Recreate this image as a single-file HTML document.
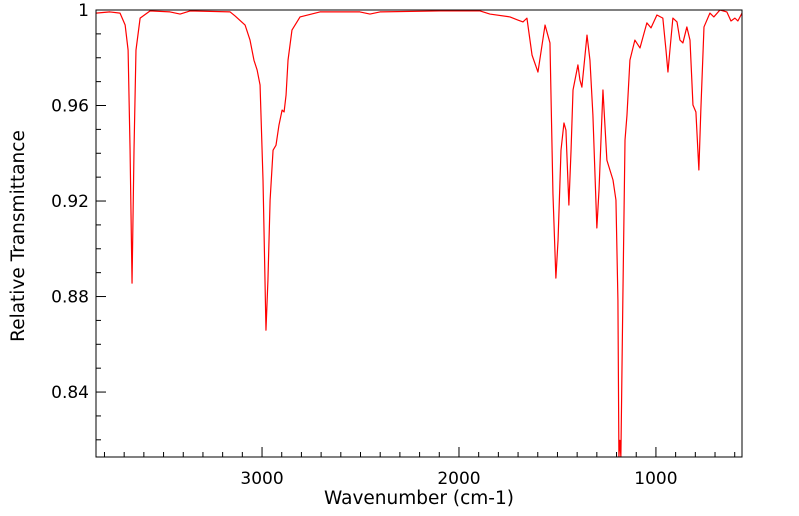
<!DOCTYPE html>
<html><head><meta charset="utf-8"><style>
html,body{margin:0;padding:0;background:#fff;}
svg{display:block;font-family:"DejaVu Sans","Liberation Sans",sans-serif;}
</style></head><body>
<svg id="chart" width="799" height="516" viewBox="0 0 799 516" xmlns="http://www.w3.org/2000/svg">
<defs><clipPath id="clip"><rect x="96" y="10" width="646" height="447"/></clipPath></defs>
<g id="axes"></g>
<g id="series" clip-path="url(#clip)"></g>
<rect x="96" y="10" width="646" height="447" fill="none" stroke="#000" stroke-width="1"/>
<text x="419" y="504" font-size="18.5" text-anchor="middle">Wavenumber (cm-1)</text>
<text transform="translate(24,236) rotate(-90)" font-size="18.5" text-anchor="middle">Relative Transmittance</text>
</svg>
<script>
const wavenumbers=[3843,3772,3721,3695,3680,3670,3660,3650,3640,3619,3569,3467,3416,3365,3162,3137,3086,3061,3041,3025,3010,2995,2980,2970,2959,2944,2929,2914,2898,2888,2878,2868,2848,2807,2706,2503,2452,2401,2096,1893,1843,1741,1701,1675,1655,1629,1599,1563,1538,1523,1508,1497,1482,1467,1457,1442,1431,1421,1396,1386,1376,1350,1335,1320,1300,1289,1269,1249,1218,1203,1193,1188,1183,1178,1168,1157,1147,1132,1107,1081,1046,1025,995,965,949,939,929,914,893,878,863,843,827,812,797,782,772,756,726,706,675,640,619,599,584,563];
const transmittance=[0.9987,0.9992,0.9987,0.9937,0.9832,0.9413,0.8856,0.9413,0.9832,0.9966,0.9996,0.9992,0.9983,0.9996,0.9992,0.9975,0.9937,0.9874,0.9790,0.9749,0.9686,0.9288,0.8659,0.8869,0.9204,0.9413,0.9434,0.9518,0.9581,0.9573,0.9644,0.9790,0.9916,0.9971,0.9992,0.9992,0.9983,0.9992,0.9996,0.9996,0.9983,0.9971,0.9958,0.9950,0.9966,0.9811,0.9740,0.9937,0.9862,0.9233,0.8877,0.9036,0.9413,0.9527,0.9497,0.9183,0.9413,0.9665,0.9770,0.9707,0.9677,0.9895,0.9790,0.9560,0.9087,0.9246,0.9665,0.9371,0.9288,0.9204,0.8785,0.8127,0.8198,0.8127,0.8785,0.9455,0.9560,0.9790,0.9874,0.9841,0.9946,0.9925,0.9979,0.9966,0.9832,0.9740,0.9832,0.9966,0.9950,0.9874,0.9862,0.9929,0.9874,0.9602,0.9573,0.9330,0.9581,0.9929,0.9987,0.9971,1.0,0.9992,0.9954,0.9966,0.9954,0.9987];
const xTickLabels=[3000,2000,1000];
const yTickLabels=[1,0.96,0.92,0.88,0.84];

const NS='http://www.w3.org/2000/svg';
const X0=96,X1=742,Y0=457,Y1=10;
const xMin=3843,xMax=563,yMin=0.8128,yMax=1.0;
function sx(w){return X0+(w-xMin)/(xMax-xMin)*(X1-X0);}
function sy(t){return Y0+(t-yMin)/(yMax-yMin)*(Y1-Y0);}
function mk(tag,attrs,parent){const e=document.createElementNS(NS,tag);for(const k in attrs)e.setAttribute(k,attrs[k]);parent.appendChild(e);return e;}
const axes=document.getElementById('axes');
for(let w=3800;w>=600;w-=100){
  const major=w%1000===0;
  const t=mk('line',{x1:sx(w),x2:sx(w),y1:Y0,y2:Y0-(major?10:5),stroke:'#000','stroke-width':1},axes);
  
  
}
xTickLabels.forEach(v=>{
  const t=mk('text',{x:sx(v),y:484,'font-size':17,'text-anchor':'middle'},axes);
  t.textContent=String(v);
  
  
});
for(let i=0;i<=18;i++){
  const v=1-i*0.01;
  if(v<yMin)break;
  const major=i%4===0;
  const t=mk('line',{x1:X0,x2:X0+(major?10:5),y1:sy(v),y2:sy(v),stroke:'#000','stroke-width':1},axes);
  
  
}
yTickLabels.forEach(v=>{
  const t=mk('text',{x:89,y:sy(v)+6,'font-size':17,'text-anchor':'end'},axes);
  t.textContent=String(v);
  
  
});
const pts=wavenumbers.map((w,i)=>sx(w).toFixed(2)+','+sy(transmittance[i]).toFixed(2)).join(' ');
const line=mk('polyline',{points:pts,fill:'none',stroke:'#ff0000','stroke-width':1.2,'stroke-linejoin':'round'},document.getElementById('series'));


</script>
</body></html>
